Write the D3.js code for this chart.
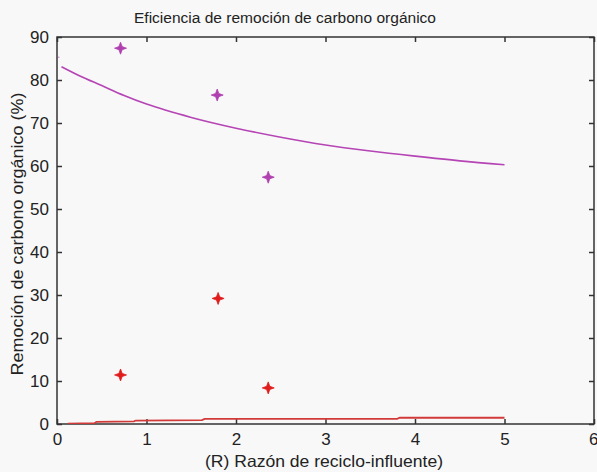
<!DOCTYPE html>
<html><head><meta charset="utf-8">
<script src="https://cdn.jsdelivr.net/npm/d3@7"></script>
<style>
body{margin:0;background:#f8f8f8;}
svg{display:block;}
text{font-family:"Liberation Sans",Arial,sans-serif;fill:#222;}
</style></head>
<body>
<script>
// Data
const xTicks = [0,1,2,3,4,5,6];
const yTicks = [0,10,20,30,40,50,60,70,80,90];
const magentaPtsX = [0.71, 1.79, 2.36];
const magentaPtsY = [87.4, 76.5, 57.4];
const redPtsX = [0.71, 1.80, 2.36];
const redPtsY = [11.4, 29.2, 8.4];
const magentaCurveX = [0.05, 0.25, 0.5, 0.75, 1.0, 1.5, 2.0, 2.5, 3.0, 3.5, 4.0, 4.5, 5.0];
const magentaCurveY = [83.1, 81.0, 78.7, 76.4, 74.4, 71.3, 68.8, 66.7, 64.9, 63.5, 62.3, 61.2, 60.3];
const redCurveX = [0.12, 0.42, 0.44, 0.86, 0.88, 1.62, 1.65, 3.80, 3.83, 5.0];
const redCurveY = [0.1, 0.2, 0.5, 0.6, 0.8, 0.9, 1.2, 1.2, 1.45, 1.45];
const strayX = [0.02], strayY = [85.3];

const W=597,H=472;
const m={l:57,r:3,t:37,b:48};
const svg=d3.select("body").append("svg").attr("width",W).attr("height",H);
svg.append("rect").attr("width",W).attr("height",H).attr("fill","#f8f8f8");
const x=d3.scaleLinear().domain([0,6]).range([m.l,W-m.r]);
const y=d3.scaleLinear().domain([0,90]).range([H-m.b,m.t]);

// frame
svg.append("rect").attr("x",x(0)).attr("y",y(90)).attr("width",x(6)-x(0)).attr("height",y(0)-y(90))
  .attr("fill","none").attr("stroke","#333").attr("stroke-width",1.5);

// axes
const ax=svg.append("g").attr("transform",`translate(0,${y(0)})`)
  .call(d3.axisBottom(x).tickValues(xTicks).tickSize(-5).tickPadding(9).tickFormat(d3.format("d")));
const ay=svg.append("g").attr("transform",`translate(${x(0)},0)`)
  .call(d3.axisLeft(y).tickValues(yTicks).tickSize(-5).tickPadding(8).tickFormat(d3.format("d")));
const axT=svg.append("g").attr("transform",`translate(0,${y(90)})`)
  .call(d3.axisTop(x).tickValues(xTicks).tickSize(-5).tickFormat(""));
const ayR=svg.append("g").attr("transform",`translate(${x(6)},0)`)
  .call(d3.axisRight(y).tickValues(yTicks).tickSize(-5).tickFormat(""));
[ax,ay,axT,ayR].forEach(g=>{
  g.select(".domain").remove();
  g.selectAll(".tick line").attr("stroke","#333").attr("stroke-width",1.5);
  g.selectAll(".tick text").attr("font-size",17).attr("fill","#222").style("font-family","'Liberation Sans',Arial,sans-serif");
});
// last x label sits at the edge, as in the reference
ax.selectAll(".tick text").filter(d=>d===6).attr("text-anchor","end").attr("dx","4");

svg.append("defs").append("clipPath").attr("id","c").append("rect")
  .attr("x",x(0)).attr("y",y(90)).attr("width",x(6)-x(0)).attr("height",y(0)-y(90));

const line=d3.line().x(d=>x(d[0])).y(d=>y(d[1]));
svg.append("path").datum(magentaCurveX.map((v,i)=>[v,magentaCurveY[i]]))
  .attr("d",d3.line().curve(d3.curveMonotoneX).x(d=>x(d[0])).y(d=>y(d[1])))
  .attr("fill","none").attr("stroke","#b544b5").attr("stroke-width",1.6);
svg.append("path").datum(redCurveX.map((v,i)=>[v,redCurveY[i]]))
  .attr("d",line).attr("fill","none").attr("stroke","#d23a3a").attr("stroke-width",1.8).attr("clip-path","url(#c)");

svg.selectAll(".stray").data(strayX.map((v,i)=>[v,strayY[i]])).enter().append("circle")
  .attr("cx",d=>x(d[0])).attr("cy",d=>y(d[1])).attr("r",0.8).attr("fill","#d080d0");

const star="M0,-6 L1.6,-1.6 L6,0 L1.6,1.6 L0,6 L-1.6,1.6 L-6,0 L-1.6,-1.6 Z";
function pts(X,Y,col){
  svg.selectAll(null).data(X.map((v,i)=>[v,Y[i]])).enter().append("path")
    .attr("d",star).attr("transform",d=>`translate(${x(d[0])},${y(d[1])})`)
    .attr("fill",col).attr("stroke",col).attr("stroke-width",0.8);
}
pts(magentaPtsX,magentaPtsY,"#b040b0");
pts(redPtsX,redPtsY,"#e01c1c");

svg.append("text").attr("x",285).attr("y",23).attr("text-anchor","middle").attr("font-size",15.5)
  .attr("textLength",302).attr("lengthAdjust","spacingAndGlyphs")
  .text("Eficiencia de remoción de carbono orgánico");
svg.append("text").attr("x",324).attr("y",467).attr("text-anchor","middle").attr("font-size",16.5)
  .attr("textLength",238).attr("lengthAdjust","spacingAndGlyphs")
  .text("(R) Razón de reciclo-influente)");
svg.append("text").attr("transform","translate(23,234) rotate(-90)").attr("text-anchor","middle").attr("font-size",16.5)
  .attr("textLength",283).attr("lengthAdjust","spacingAndGlyphs")
  .text("Remoción de carbono orgánico (%)");
</script>
</body></html>
